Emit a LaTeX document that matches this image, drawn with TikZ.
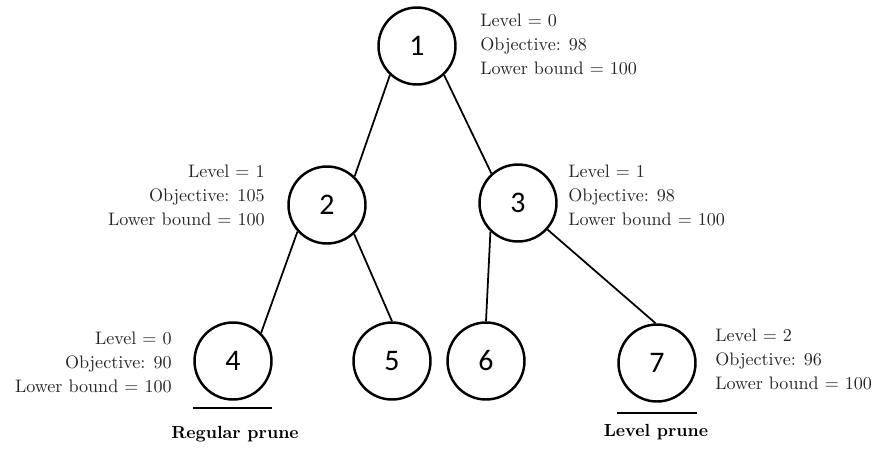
\documentclass[tikz,border=0pt]{standalone}
\usepackage{fontspec}
\newfontfamily\digitfont{Carlito}
\begin{document}
\begin{tikzpicture}[x=0.02cm,y=-0.02cm,
  treenode/.style={circle,draw=black,line width=1.4pt,minimum size=1.54cm,inner sep=0pt,font=\digitfont\fontsize{17}{17}\selectfont},
  edge/.style={draw=black,line width=1pt},
  info/.style={inner sep=0pt,text=black!85,font=\fontsize{10.3}{13.4}\selectfont},
  prunebar/.style={draw=black,line width=1.6pt},
  prunetext/.style={inner sep=0pt,font=\bfseries\fontsize{10}{12}\selectfont}]
\useasboundingbox (0,0) rectangle (878,450);
\node[treenode] (n1) at (417,46) {1};
\node[treenode] (n2) at (327,205) {2};
\node[treenode] (n3) at (518,203) {3};
\node[treenode] (n4) at (233,361) {4};
\node[treenode] (n5) at (392,361) {5};
\node[treenode] (n6) at (486,361) {6};
\node[treenode] (n7) at (657,363) {7};
\draw[edge] (n1.227) -- (n2.46);
\draw[edge] (n1.313) -- (n3.132);
\draw[edge] (n2.222) -- (n4.45);
\draw[edge] (n2.313) -- (n5.90);
\draw[edge] (n3.226) -- (n6.90);
\draw[edge] (n3.318) -- (n7.92);
\node[info,align=left,anchor=north west] (l1) at (480,14) {Level = 0\\Objective: 98\\Lower bound = 100};
\node[info,align=right,anchor=north east] (l2) at (265,165) {Level = 1\\Objective: 105\\Lower bound = 100};
\node[info,align=left,anchor=north west] (l3) at (568,165) {Level = 1\\Objective: 98\\Lower bound = 100};
\node[info,align=right,anchor=north east] (l4) at (172,332) {Level = 0\\Objective: 90\\Lower bound = 100};
\node[info,align=left,anchor=north west] (l7) at (715,329) {Level = 2\\Objective: 96\\Lower bound = 100};
\coordinate (r1) at (193,408);
\coordinate (r2) at (272,408);
\draw[prunebar] (r1) -- (r2);
\node[prunetext,anchor=base] (rt) at (235,438) {Regular prune};
\coordinate (p1) at (617,413);
\coordinate (p2) at (697,413);
\draw[prunebar] (p1) -- (p2);
\node[prunetext,anchor=base] (pt) at (656,436) {Level prune};
\end{tikzpicture}
\end{document}
